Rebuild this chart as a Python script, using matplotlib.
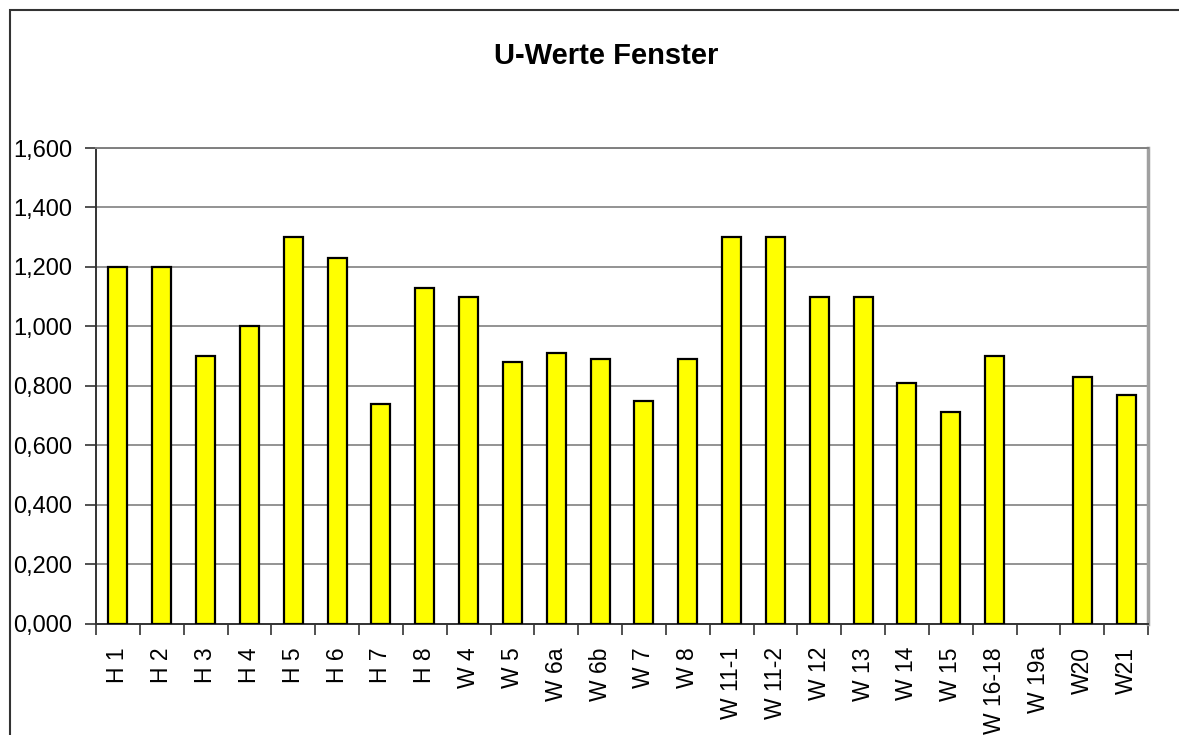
import matplotlib
matplotlib.use('Agg')
import matplotlib.pyplot as plt
import numpy as np
from matplotlib.patches import Rectangle

plt.rcParams['font.family'] = ['Liberation Sans', 'DejaVu Sans']

labels = ['H 1', 'H 2', 'H 3', 'H 4', 'H 5', 'H 6', 'H 7', 'H 8', 'W 4', 'W 5',
          'W 6a', 'W 6b', 'W 7', 'W 8', 'W 11-1', 'W 11-2', 'W 12', 'W 13',
          'W 14', 'W 15', 'W 16-18', 'W 19a', 'W20', 'W21']
u_values = [1.20, 1.20, 0.90, 1.00, 1.30, 1.23, 0.74, 1.13, 1.10, 0.88,
            0.91, 0.89, 0.75, 0.89, 1.30, 1.30, 1.10, 1.10,
            0.81, 0.71, 0.90, np.nan, 0.83, 0.77]
y_ticks = [0.0, 0.2, 0.4, 0.6, 0.8, 1.0, 1.2, 1.4, 1.6]

fig = plt.figure(figsize=(11.79, 7.35), dpi=100)
ax = fig.add_axes([96 / 1179, 1 - 623.5 / 735, (1148 - 96) / 1179, (623.5 - 148) / 735])

# outer chart frame (runs off the image on the right and bottom)
fig.patches.append(Rectangle((10 / 1179, -0.1), 1.2, 1.1 - 10 / 735,
                             transform=fig.transFigure, fill=False,
                             edgecolor='#333333', linewidth=1.5))

x = np.arange(len(labels))
ax.bar(x, u_values, width=0.43, color='#ffff00', edgecolor='black',
       linewidth=1.6, zorder=3)

ax.set_xlim(-0.5, len(labels) - 0.5)
ax.set_ylim(0, 1.6)
ax.set_yticks(y_ticks)
ax.set_yticklabels([f'{v:.3f}'.replace('.', ',') for v in y_ticks])
ax.yaxis.grid(True, color='#808080', linewidth=1.2, zorder=0)

ax.set_xticks(x)
ax.set_xticklabels(labels, rotation=90, va='top', ha='center')
ax.set_xticks(np.arange(-0.5, len(labels)), minor=True)
ax.tick_params(axis='x', which='major', length=0, pad=17, labelsize=16.5)
ax.tick_params(axis='x', which='minor', length=8, width=1.2, color='#333333')
ax.tick_params(axis='y', length=8, width=1.2, color='#333333', pad=9, labelsize=17)

ax.spines['left'].set_color('#333333')
ax.spines['bottom'].set_color('#333333')
ax.spines['left'].set_linewidth(1.4)
ax.spines['bottom'].set_linewidth(1.4)
ax.spines['top'].set_color('#808080')
ax.spines['top'].set_linewidth(1.4)
ax.spines['right'].set_color('#a0a0a0')
ax.spines['right'].set_linewidth(2.5)

fig.text(606 / 1179, 1 - 56 / 735, 'U-Werte Fenster', ha='center', va='center',
         fontsize=21, fontweight='bold')

fig.savefig('out.png', dpi=100)
